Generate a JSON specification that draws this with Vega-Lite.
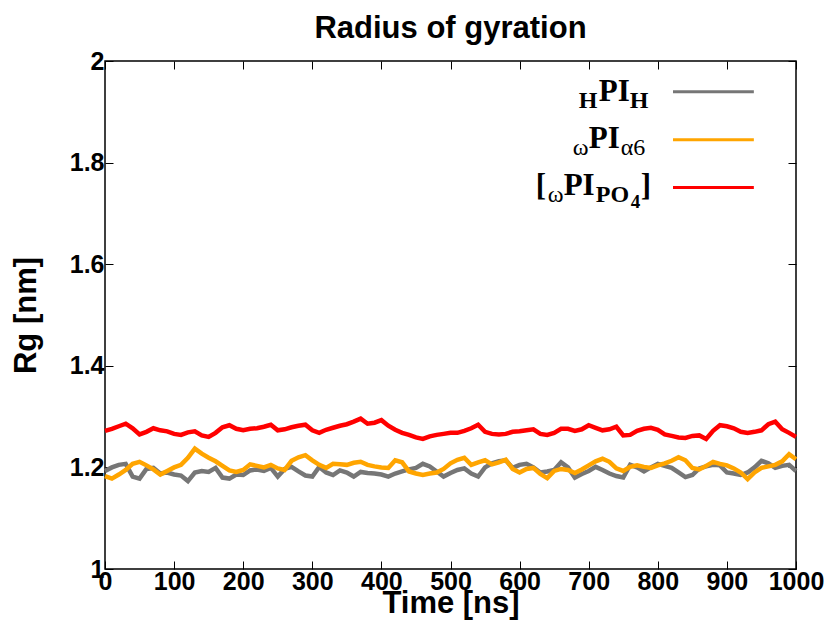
{
  "$schema": "https://vega.github.io/schema/vega-lite/v6.json",
  "width": 691,
  "height": 508,
  "autosize": {"type": "none"},
  "padding": {"left": 105, "top": 61, "right": 34, "bottom": 55},
  "background": "#ffffff",
  "config": {
    "view": {"stroke": "#000000", "strokeWidth": 1.5},
    "text": {"font": "Liberation Serif", "fontWeight": "bold", "align": "left", "baseline": "alphabetic", "color": "#000000"}
  },
  "title": {"text": "Radius of gyration", "font": "Liberation Sans", "fontSize": 31, "fontWeight": "bold", "color": "#000000", "anchor": "middle", "offset": 15, "baseline": "bottom", "dy": 42},
  "data": {"values": [
    {"t":0,"g":1.193,"o":1.183,"r":1.272},{"t":10,"g":1.200,"o":1.178,"r":1.276},{"t":20,"g":1.205,"o":1.186,"r":1.281},{"t":30,"g":1.207,"o":1.195,"r":1.286},{"t":40,"g":1.182,"o":1.207,"r":1.277},
    {"t":50,"g":1.178,"o":1.211,"r":1.265},{"t":60,"g":1.197,"o":1.204,"r":1.270},{"t":70,"g":1.199,"o":1.196,"r":1.277},{"t":80,"g":1.188,"o":1.186,"r":1.273},{"t":90,"g":1.190,"o":1.193,"r":1.271},
    {"t":100,"g":1.186,"o":1.200,"r":1.266},{"t":110,"g":1.184,"o":1.205,"r":1.264},{"t":120,"g":1.173,"o":1.219,"r":1.269},{"t":130,"g":1.190,"o":1.237,"r":1.271},{"t":140,"g":1.193,"o":1.227,"r":1.263},
    {"t":150,"g":1.191,"o":1.219,"r":1.260},{"t":160,"g":1.199,"o":1.212,"r":1.268},{"t":170,"g":1.180,"o":1.203,"r":1.279},{"t":180,"g":1.178,"o":1.194,"r":1.283},{"t":190,"g":1.186,"o":1.191,"r":1.276},
    {"t":200,"g":1.185,"o":1.195,"r":1.273},{"t":210,"g":1.194,"o":1.206,"r":1.276},{"t":220,"g":1.196,"o":1.203,"r":1.277},{"t":230,"g":1.193,"o":1.200,"r":1.280},{"t":240,"g":1.199,"o":1.205,"r":1.284},
    {"t":250,"g":1.182,"o":1.198,"r":1.273},{"t":260,"g":1.197,"o":1.195,"r":1.275},{"t":270,"g":1.201,"o":1.213,"r":1.279},{"t":280,"g":1.192,"o":1.220,"r":1.282},{"t":290,"g":1.184,"o":1.224,"r":1.284},
    {"t":300,"g":1.182,"o":1.214,"r":1.273},{"t":310,"g":1.201,"o":1.205,"r":1.268},{"t":320,"g":1.190,"o":1.199,"r":1.274},{"t":330,"g":1.185,"o":1.207,"r":1.278},{"t":340,"g":1.194,"o":1.206,"r":1.282},
    {"t":350,"g":1.190,"o":1.205,"r":1.285},{"t":360,"g":1.182,"o":1.209,"r":1.290},{"t":370,"g":1.191,"o":1.211,"r":1.296},{"t":380,"g":1.189,"o":1.205,"r":1.286},{"t":390,"g":1.188,"o":1.202,"r":1.288},
    {"t":400,"g":1.186,"o":1.200,"r":1.293},{"t":410,"g":1.182,"o":1.199,"r":1.282},{"t":420,"g":1.188,"o":1.214,"r":1.274},{"t":430,"g":1.192,"o":1.210,"r":1.268},{"t":440,"g":1.196,"o":1.192,"r":1.264},
    {"t":450,"g":1.199,"o":1.188,"r":1.259},{"t":460,"g":1.207,"o":1.185,"r":1.256},{"t":470,"g":1.202,"o":1.188,"r":1.261},{"t":480,"g":1.192,"o":1.190,"r":1.264},{"t":490,"g":1.182,"o":1.197,"r":1.266},
    {"t":500,"g":1.189,"o":1.208,"r":1.268},{"t":510,"g":1.195,"o":1.215,"r":1.268},{"t":520,"g":1.198,"o":1.219,"r":1.272},{"t":530,"g":1.188,"o":1.205,"r":1.277},{"t":540,"g":1.182,"o":1.210,"r":1.284},
    {"t":550,"g":1.200,"o":1.214,"r":1.270},{"t":560,"g":1.208,"o":1.206,"r":1.266},{"t":570,"g":1.212,"o":1.210,"r":1.265},{"t":580,"g":1.214,"o":1.215,"r":1.266},{"t":590,"g":1.199,"o":1.197,"r":1.270},
    {"t":600,"g":1.205,"o":1.190,"r":1.271},{"t":610,"g":1.207,"o":1.197,"r":1.273},{"t":620,"g":1.200,"o":1.199,"r":1.275},{"t":630,"g":1.190,"o":1.187,"r":1.266},{"t":640,"g":1.192,"o":1.179,"r":1.264},
    {"t":650,"g":1.195,"o":1.193,"r":1.268},{"t":660,"g":1.210,"o":1.197,"r":1.276},{"t":670,"g":1.200,"o":1.195,"r":1.276},{"t":680,"g":1.180,"o":1.189,"r":1.272},{"t":690,"g":1.187,"o":1.196,"r":1.275},
    {"t":700,"g":1.193,"o":1.204,"r":1.283},{"t":710,"g":1.201,"o":1.212,"r":1.278},{"t":720,"g":1.195,"o":1.217,"r":1.273},{"t":730,"g":1.188,"o":1.211,"r":1.275},{"t":740,"g":1.183,"o":1.198,"r":1.280},
    {"t":750,"g":1.180,"o":1.193,"r":1.263},{"t":760,"g":1.205,"o":1.201,"r":1.264},{"t":770,"g":1.200,"o":1.204,"r":1.272},{"t":780,"g":1.192,"o":1.201,"r":1.276},{"t":790,"g":1.200,"o":1.199,"r":1.278},
    {"t":800,"g":1.207,"o":1.204,"r":1.274},{"t":810,"g":1.203,"o":1.208,"r":1.265},{"t":820,"g":1.199,"o":1.213,"r":1.262},{"t":830,"g":1.190,"o":1.220,"r":1.259},{"t":840,"g":1.181,"o":1.214,"r":1.258},
    {"t":850,"g":1.185,"o":1.199,"r":1.262},{"t":860,"g":1.198,"o":1.196,"r":1.263},{"t":870,"g":1.202,"o":1.203,"r":1.256},{"t":880,"g":1.205,"o":1.211,"r":1.272},{"t":890,"g":1.204,"o":1.207,"r":1.283},
    {"t":900,"g":1.190,"o":1.204,"r":1.281},{"t":910,"g":1.188,"o":1.198,"r":1.277},{"t":920,"g":1.185,"o":1.190,"r":1.270},{"t":930,"g":1.190,"o":1.177,"r":1.268},{"t":940,"g":1.200,"o":1.190,"r":1.270},
    {"t":950,"g":1.213,"o":1.199,"r":1.273},{"t":960,"g":1.208,"o":1.202,"r":1.285},{"t":970,"g":1.199,"o":1.205,"r":1.290},{"t":980,"g":1.203,"o":1.212,"r":1.275},{"t":990,"g":1.205,"o":1.226,"r":1.268},
    {"t":1000,"g":1.193,"o":1.216,"r":1.260}
  ]},
  "resolve": {"axis": {"x": "independent", "y": "independent"}},
  "layer": [
    {
      "mark": {"type": "line", "color": "#767676", "strokeWidth": 4.5},
      "encoding": {
        "x": {"field": "t", "type": "quantitative", "scale": {"domain": [0, 1000], "nice": false, "zero": false},
          "axis": {"orient": "bottom", "values": [0,100,200,300,400,500,600,700,800,900,1000], "labelExpr": "'' + datum.value", "title": "Time [ns]", "domain": false, "grid": false,
            "tickSize": -8, "tickColor": "#000000", "tickWidth": 1, "labelFont": "Liberation Sans", "labelFontWeight": "bold", "labelFontSize": 25, "labelColor": "#000000",
            "labelPadding": 8, "labelFlush": false, "labelOverlap": false, "titleFont": "Liberation Sans", "titleFontSize": 31, "titleFontWeight": "bold", "titleColor": "#000000",
            "titleBaseline": "alphabetic", "titleY": 43}},
        "y": {"field": "g", "type": "quantitative", "scale": {"domain": [1, 2], "nice": false, "zero": false},
          "axis": {"orient": "left", "values": [1,1.2,1.4,1.6,1.8,2], "labelExpr": "'' + datum.value", "title": "Rg [nm]", "domain": false, "grid": false,
            "tickSize": -8, "tickColor": "#000000", "tickWidth": 1, "labelFont": "Liberation Sans", "labelFontWeight": "bold", "labelFontSize": 25, "labelColor": "#000000",
            "labelPadding": 9, "labelFlush": false, "labelOverlap": false, "titleFont": "Liberation Sans", "titleFontSize": 31, "titleFontWeight": "bold", "titleColor": "#000000",
            "titleBaseline": "alphabetic", "titleX": -70, "titleY": 254}}
      }
    },
    {
      "mark": {"type": "line", "color": "#ffa500", "strokeWidth": 4.5},
      "encoding": {
        "x": {"field": "t", "type": "quantitative", "scale": {"domain": [0, 1000], "nice": false, "zero": false},
          "axis": {"orient": "top", "values": [0,100,200,300,400,500,600,700,800,900,1000], "labels": false, "title": null, "domain": false, "grid": false, "tickSize": -8, "tickColor": "#000000", "tickWidth": 1}},
        "y": {"field": "o", "type": "quantitative", "scale": {"domain": [1, 2], "nice": false, "zero": false},
          "axis": {"orient": "right", "values": [1,1.2,1.4,1.6,1.8,2], "labels": false, "title": null, "domain": false, "grid": false, "tickSize": -8, "tickColor": "#000000", "tickWidth": 1}}
      }
    },
    {
      "mark": {"type": "line", "color": "#ff0000", "strokeWidth": 4.5},
      "encoding": {
        "x": {"field": "t", "type": "quantitative", "scale": {"domain": [0, 1000], "nice": false, "zero": false}, "axis": null},
        "y": {"field": "r", "type": "quantitative", "scale": {"domain": [1, 2], "nice": false, "zero": false}, "axis": null}
      }
    },
    {
      "data": {"values": [{}]},
      "mark": {"type": "rule", "color": "#767676", "strokeWidth": 3},
      "encoding": {"x": {"datum": 822, "type": "quantitative", "axis": null}, "x2": {"datum": 939}, "y": {"datum": 1.9395, "type": "quantitative", "axis": null}}
    },
    {
      "data": {"values": [{}]},
      "mark": {"type": "rule", "color": "#ffa500", "strokeWidth": 3},
      "encoding": {"x": {"datum": 822, "type": "quantitative", "axis": null}, "x2": {"datum": 939}, "y": {"datum": 1.8448, "type": "quantitative", "axis": null}}
    },
    {
      "data": {"values": [{}]},
      "mark": {"type": "rule", "color": "#ff0000", "strokeWidth": 3},
      "encoding": {"x": {"datum": 822, "type": "quantitative", "axis": null}, "x2": {"datum": 939}, "y": {"datum": 1.7509, "type": "quantitative", "axis": null}}
    },
    {"data": {"values": [{}]}, "mark": {"type": "text", "text": "H", "fontSize": 24},
      "encoding": {"x": {"datum": 685.5, "type": "quantitative", "axis": null}, "y": {"datum": 1.9073, "type": "quantitative", "axis": null}}},
    {"data": {"values": [{}]}, "mark": {"type": "text", "text": "PI", "fontSize": 31},
      "encoding": {"x": {"datum": 714.5, "type": "quantitative", "axis": null}, "y": {"datum": 1.9211, "type": "quantitative", "axis": null}}},
    {"data": {"values": [{}]}, "mark": {"type": "text", "text": "H", "fontSize": 24},
      "encoding": {"x": {"datum": 759.4, "type": "quantitative", "axis": null}, "y": {"datum": 1.9073, "type": "quantitative", "axis": null}}},
    {"data": {"values": [{}]}, "mark": {"type": "text", "text": "ω", "fontSize": 24, "fontWeight": "normal"},
      "encoding": {"x": {"datum": 676.8, "type": "quantitative", "axis": null}, "y": {"datum": 1.8146, "type": "quantitative", "axis": null}}},
    {"data": {"values": [{}]}, "mark": {"type": "text", "text": "PI", "fontSize": 31},
      "encoding": {"x": {"datum": 700, "type": "quantitative", "axis": null}, "y": {"datum": 1.8284, "type": "quantitative", "axis": null}}},
    {"data": {"values": [{}]}, "mark": {"type": "text", "text": "α6", "fontSize": 24, "fontWeight": "normal"},
      "encoding": {"x": {"datum": 746.4, "type": "quantitative", "axis": null}, "y": {"datum": 1.8146, "type": "quantitative", "axis": null}}},
    {"data": {"values": [{}]}, "mark": {"type": "text", "text": "[", "fontSize": 31},
      "encoding": {"x": {"datum": 623.2, "type": "quantitative", "axis": null}, "y": {"datum": 1.7357, "type": "quantitative", "axis": null}}},
    {"data": {"values": [{}]}, "mark": {"type": "text", "text": "ω", "fontSize": 24, "fontWeight": "normal"},
      "encoding": {"x": {"datum": 640.6, "type": "quantitative", "axis": null}, "y": {"datum": 1.7219, "type": "quantitative", "axis": null}}},
    {"data": {"values": [{}]}, "mark": {"type": "text", "text": "PI", "fontSize": 31},
      "encoding": {"x": {"datum": 663.8, "type": "quantitative", "axis": null}, "y": {"datum": 1.7357, "type": "quantitative", "axis": null}}},
    {"data": {"values": [{}]}, "mark": {"type": "text", "text": "PO", "fontSize": 24},
      "encoding": {"x": {"datum": 710.2, "type": "quantitative", "axis": null}, "y": {"datum": 1.7219, "type": "quantitative", "axis": null}}},
    {"data": {"values": [{}]}, "mark": {"type": "text", "text": "4", "fontSize": 19},
      "encoding": {"x": {"datum": 760.9, "type": "quantitative", "axis": null}, "y": {"datum": 1.7101, "type": "quantitative", "axis": null}}},
    {"data": {"values": [{}]}, "mark": {"type": "text", "text": "]", "fontSize": 31},
      "encoding": {"x": {"datum": 775.4, "type": "quantitative", "axis": null}, "y": {"datum": 1.7357, "type": "quantitative", "axis": null}}}
  ]
}
